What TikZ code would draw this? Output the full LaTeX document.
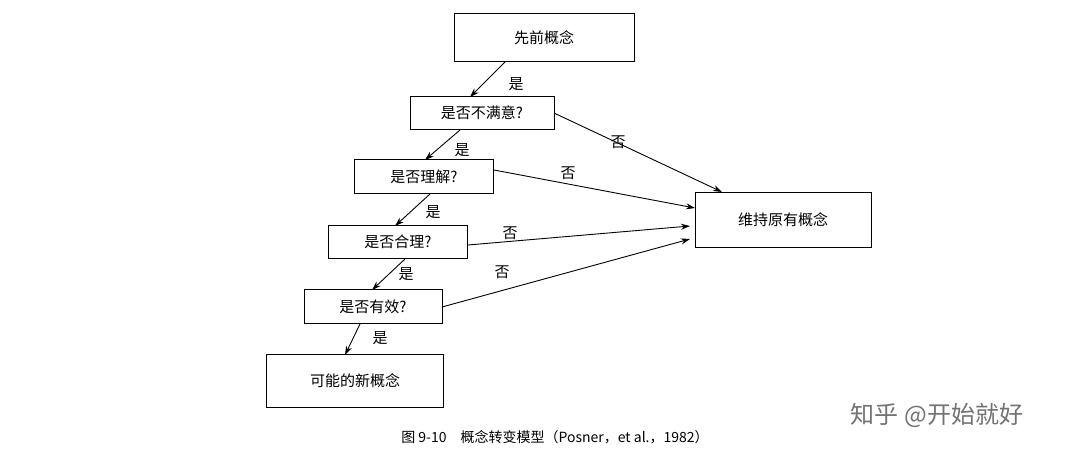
\documentclass[tikz,border=0pt]{standalone}
\usepackage{fontspec}
\setmainfont{Noto Sans CJK SC}
\usetikzlibrary{arrows.meta}
\begin{document}
\begin{tikzpicture}[x=1pt,y=-1pt,
  box/.style={draw,line width=1pt,inner sep=0pt,font=\fontsize{15}{16}\selectfont},
  lab/.style={font=\fontsize{15}{16}\selectfont},
  arr/.style={-{Stealth[length=9pt,width=6pt]},line width=0.9pt}]
\useasboundingbox[fill=white] (0,0) rectangle (1080,462);
\node[box,minimum width=180pt,minimum height=48pt] (a) at (544,38) {先前概念};
\node[box,minimum width=144pt,minimum height=33pt] (b) at (482,113) {是否不满意?};
\node[box,minimum width=139pt,minimum height=34pt] (c) at (424,177) {是否理解?};
\node[box,minimum width=139pt,minimum height=33pt] (d) at (398,242) {是否合理?};
\node[box,minimum width=138pt,minimum height=34pt] (e) at (373,307) {是否有效?};
\node[box,minimum width=177pt,minimum height=53pt] (f) at (355,381) {可能的新概念};
\node[box,minimum width=176pt,minimum height=55pt] (g) at (783,220) {维持原有概念};
\coordinate (a1) at (505,62); \coordinate (b1) at (470,97);
\draw[arr] (a1) -- (b1);
\coordinate (b2) at (460,130); \coordinate (c2) at (425,160);
\draw[arr] (b2) -- (c2);
\coordinate (c3) at (430,194); \coordinate (d3) at (395,226);
\draw[arr] (c3) -- (d3);
\coordinate (d4) at (405,259); \coordinate (e4) at (372,290);
\draw[arr] (d4) -- (e4);
\coordinate (e5) at (360,324); \coordinate (f5) at (345,355);
\draw[arr] (e5) -- (f5);
\coordinate (bo) at (554,113); \coordinate (g1) at (722,192);
\draw[arr] (bo) -- (g1);
\coordinate (co) at (494,170); \coordinate (g2) at (695,208);
\draw[arr] (co) -- (g2);
\coordinate (do) at (468,245); \coordinate (g3) at (690,226);
\draw[arr] (do) -- (g3);
\coordinate (eo) at (442,307); \coordinate (g4) at (690,239);
\draw[arr] (eo) -- (g4);
\node[lab] (l1) at (516,84) {是};
\node[lab] (l2) at (462,150) {是};
\node[lab] (l3) at (433,212) {是};
\node[lab] (l4) at (406,274) {是};
\node[lab] (l5) at (380,338) {是};
\node[lab] (n1) at (618,142) {否};
\node[lab] (n2) at (568,173) {否};
\node[lab] (n3) at (510,233) {否};
\node[lab] (n4) at (502,272) {否};
\node[font=\fontsize{14}{16}\selectfont] (cap) at (555,437) {图 9-10\quad 概念转变模型（Posner，et al.，1982）};
\node[font=\fontsize{24}{26}\selectfont,text=black!55] (wm) at (937,415) {知乎 @开始就好};
\end{tikzpicture}
\end{document}
